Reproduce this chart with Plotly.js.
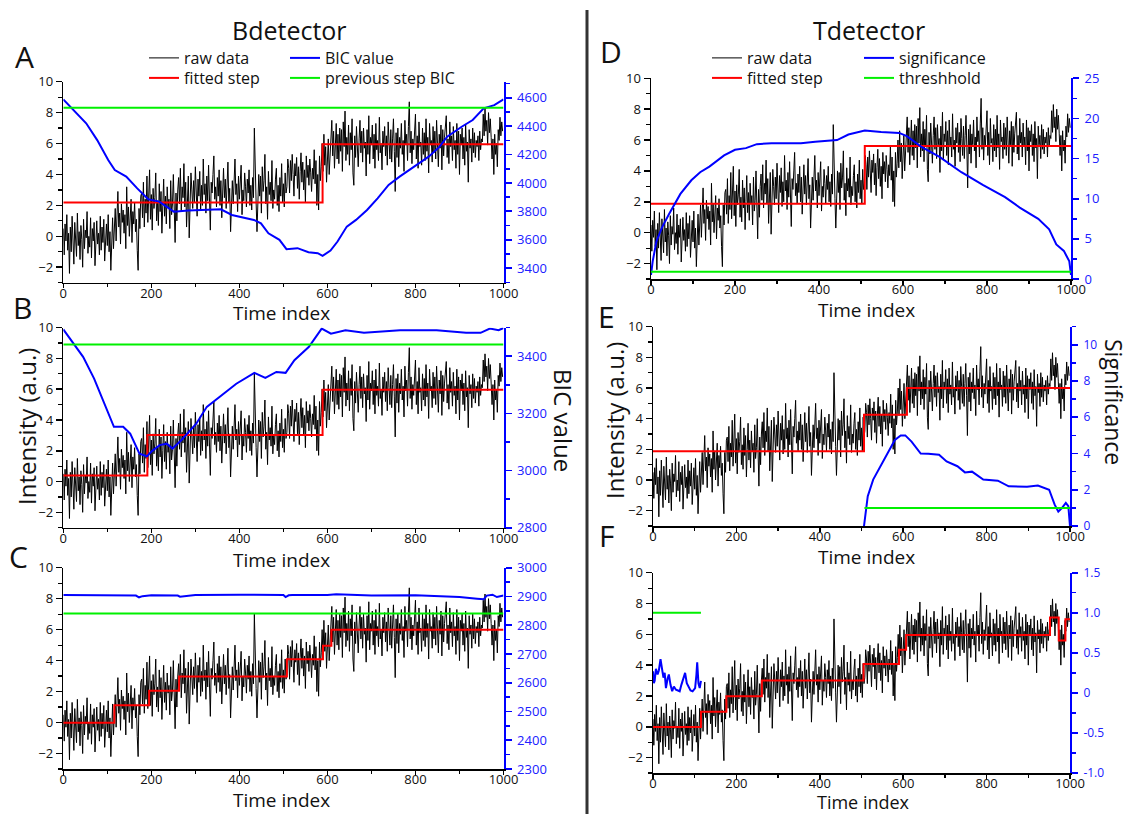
<!DOCTYPE html>
<html><head><meta charset="utf-8">
<script src="https://cdn.plot.ly/plotly-3.0.1.min.js"></script>
<style>html,body{margin:0;padding:0;background:#fff}#chart{width:1131px;height:814px}</style>
</head><body><div id="chart"></div>
<script>
// ---------------- DATA ----------------
const timeStep = 2;
const rawData = [
0.5,-1.2,0.8,-0.3,1.4,-0.9,0.2,-2.4,0.6,-1.0,
1.3,-0.4,-1.8,0.9,0.1,-1.3,1.5,-0.6,0.3,-1.5,
0.7,-0.2,-2.0,1.1,-0.8,0.4,-0.1,1.6,-1.1,0.0,
-0.7,1.2,-1.4,0.5,-0.3,0.9,-1.9,0.3,1.0,-0.5,
0.2,-1.2,1.3,-0.9,0.6,-0.4,1.1,-1.6,0.1,0.8,
-0.6,1.4,-1.0,0.3,-2.2,0.7,1.2,-0.8,
0.4,1.8,-0.3,1.2,2.9,0.6,1.5,-0.5,2.1,0.9,
1.7,0.2,1.4,-0.8,3.2,0.7,1.9,0.0,1.3,2.4,
-0.4,1.6,0.8,2.2,0.3,1.1,-0.9,-2.2,1.8,0.5,
2.6,
2.8,1.2,3.5,0.6,2.4,1.5,3.9,0.9,2.2,4.3,
1.1,2.7,0.4,3.1,1.8,2.5,4.1,1.0,2.3,0.7,
3.4,1.6,2.9,0.2,2.0,3.7,1.3,2.6,0.8,3.2,
1.9,2.4,0.5,3.6,1.4,2.1,4.0,1.7,-0.4,2.8,
1.0,3.0,
3.8,2.1,4.4,1.6,3.2,2.5,4.7,1.9,3.5,0.6,
2.8,3.9,-0.1,2.4,4.1,3.0,1.8,3.6,2.2,4.5,
2.9,1.3,3.7,2.6,4.2,1.7,3.3,2.0,5.0,2.7,
3.4,1.5,3.9,2.3,4.6,3.1,0.4,3.5,2.8,4.0,
5.2,2.4,3.2,1.9,3.8,2.6,4.3,2.0,3.6,1.2,
3.0,4.4,2.5,3.7,1.8,3.3,4.8,2.2,3.1,0.3,
2.9,3.6,2.1,4.2,5.0,2.7,3.4,1.6,3.9,2.4,
3.5,4.6,1.4,3.0,2.3,4.1,3.2,1.9,3.7,2.8,
4.3,2.0,3.3,1.7,3.8,2.5,7.0,3.1,2.2,0.3,
3.4,4.0,2.6,3.9,1.5,4.5,2.9,3.6,5.3,2.1,
3.2,1.1,4.2,2.7,3.5,2.3,4.9,1.8,3.0,2.4,
3.7,4.4,2.0,3.3,1.6,3.8,2.6,4.7,2.2,3.4,
1.9,4.1,2.8,
3.2,5.0,4.4,2.8,4.9,3.6,5.3,4.0,2.6,4.7,
3.9,5.1,3.1,4.5,2.4,4.2,5.4,3.5,4.8,3.0,
4.3,2.2,5.2,3.8,4.6,3.3,5.0,4.1,2.9,4.4,
3.7,5.6,3.4,4.9,2.0,4.0,1.7,5.2,3.6,4.5,
6.0,
4.2,6.6,4.6,5.8,3.5,5.4,6.3,4.0,5.6,6.1,
7.5,5.2,6.8,4.4,6.2,7.3,5.0,6.6,4.7,7.0,
5.5,6.9,4.2,7.4,5.8,8.1,4.9,6.4,5.3,7.2,
4.6,6.7,5.6,7.6,4.1,3.3,6.5,5.1,7.1,5.9,
4.5,6.3,7.5,5.4,6.8,4.8,7.0,5.7,6.1,3.9,
6.9,5.3,7.8,4.7,6.4,5.9,7.2,5.0,6.6,4.4,
7.3,5.6,6.2,4.9,7.7,5.4,6.0,4.3,6.8,5.8,
7.1,5.2,6.5,4.6,7.4,6.1,5.0,6.9,4.8,6.3,
7.6,5.5,2.9,6.7,5.1,7.0,4.5,6.4,5.7,7.3,
5.3,6.2,4.2,7.5,5.9,6.6,4.9,7.1,8.7,5.4,
6.8,4.7,6.3,5.6,7.2,7.9,5.0,6.5,4.4,7.4,
5.8,6.1,4.6,7.0,5.3,6.7,4.9,7.6,5.5,6.4,
4.1,7.3,5.9,6.2,4.8,7.1,5.4,6.8,5.0,7.5,
6.0,4.5,6.6,5.7,7.2,4.3,6.9,5.2,6.4,7.0,
7.8,5.1,6.3,4.7,7.4,5.8,6.5,4.9,7.1,5.6,
6.2,4.4,7.3,5.3,6.8,4.0,6.6,5.9,7.0,5.0,
6.4,4.6,7.2,5.5,6.1,3.5,6.9,5.7,6.3,4.8,
7.0,5.4,6.7,5.1,6.2,5.8,6.5,4.9,6.8,5.6,
6.3,
6.1,7.9,6.5,8.3,6.8,7.5,5.9,8.0,6.7,7.6,6.4,
5.0,6.3,4.0,6.6,5.3,6.0,4.5,6.9,
6.2,7.7,6.5,7.4,6.8
];

// fitted steps (breakpoint time index, level)
const stepA_x = [0, 589, 1000];
const stepA_y = [2.18, 5.95, 5.95];
const stepB_x = [0, 191, 589, 1000];
const stepB_y = [0.4, 3.03, 5.97, 5.97];
const stepC_x = [0, 116, 195, 263, 508, 590, 609, 1000];
const stepC_y = [-0.02, 1.12, 2.06, 2.98, 4.08, 4.96, 5.99, 5.99];
const stepD_x = [0, 509, 1000];
const stepD_y = [1.87, 5.61, 5.61];
const stepE_x = [0, 506, 609, 1000];
const stepE_y = [1.87, 4.26, 6.0, 6.0];
const stepF_x = [0, 115, 176, 261, 505, 590, 607, 952, 973, 989, 1000];
const stepF_y = [-0.02, 0.97, 1.98, 3.0, 4.07, 5.0, 5.95, 7.09, 5.6, 6.98, 6.98];

// BIC values (Bdetector)
const bicA_x = [0,19,52,77,102,117,143,168,193,218,251,284,317,334,358,383,433,449,466,491,507,532,557,578,589,607,623,644,665,690,714,739,764,797,830,855,872,905,930,955,979,1000];
const bicA_y = [4588,4525,4420,4302,4162,4091,4045,3962,3885,3869,3798,3806,3810,3815,3815,3775,3740,3716,3646,3600,3534,3541,3513,3506,3487,3524,3588,3693,3740,3810,3892,3986,4045,4115,4185,4256,4326,4396,4443,4525,4548,4588];
const bicB_x = [0,20,45,70,94,115,136,152,173,190,202,219,235,248,268,302,326,360,393,434,459,484,505,525,558,587,608,641,683,765,848,915,948,969,989,1000];
const bicB_y = [3494,3450,3398,3322,3234,3153,3153,3129,3059,3050,3069,3089,3094,3077,3106,3164,3223,3264,3304,3342,3324,3345,3342,3386,3433,3497,3479,3491,3482,3491,3491,3482,3482,3497,3491,3499];
const bicC_x = [0,100,165,172,180,200,260,265,300,400,500,505,512,520,600,620,650,700,800,850,900,940,955,962,975,985,1000];
const bicC_y = [2905,2904,2903,2897,2901,2904,2903,2899,2905,2906,2905,2898,2904,2905,2905,2908,2906,2903,2904,2900,2898,2892,2890,2903,2906,2898,2903];

// significance (Tdetector)
const sigD_x = [0,4,13,26,43,70,96,117,139,174,200,226,252,287,322,357,391,443,470,509,548,591,609,643,687,739,791,843,878,922,948,965,983,996,1000];
const sigD_y = [0.5,2.2,4.7,6.4,8.1,10.6,12.3,13.3,14.0,15.4,16.1,16.3,16.8,16.9,16.9,16.9,17.1,17.3,18.0,18.5,18.3,18.2,17.8,16.5,15.2,13.3,11.7,10.2,8.9,7.5,6.2,4.3,3.5,2.2,0.5];
const sigE_x = [506,515,528,545,563,580,594,605,620,642,660,686,704,730,748,765,792,827,853,897,923,950,963,972,981,990,996,1000];
const sigE_y = [0,1.65,2.56,3.3,4.0,4.75,5.0,5.0,4.66,4.0,3.99,3.93,3.56,3.3,2.96,3.0,2.56,2.5,2.19,2.16,2.23,2.0,1.19,0.79,1.0,1.28,1.1,0];
const sigF_x = [0,2,4,7,11,14,18,21,25,28,31,35,38,42,46,50,55,60,64,68,72,77,81,86,90,95,98,101,104,106,109,112,115];
const sigF_y = [0.27,0.12,0.15,0.30,0.23,0.28,0.42,0.30,0.19,0.25,0.06,0.18,0.23,0.10,0.02,0.08,0.04,0.03,0.02,0.10,0.18,0.25,0.12,0.06,0.03,0.02,0.05,0.06,0.22,0.38,0.12,0.06,0.15];

// reference / threshold lines
const greenA_x = [0, 1000], greenA_y = [4530, 4530];
const greenB_x = [0, 1000], greenB_y = [3441, 3441];
const greenC_x = [0, 1000], greenC_y = [2841, 2841];
const greenD_x = [0, 1000], greenD_y = [0.9, 0.9];
const greenE_x = [507, 1000], greenE_y = [1, 1];
const greenF_x = [0, 115], greenF_y = [1, 1];

// tick labels
const timeTicks = [0, 200, 400, 600, 800, 1000];
const intensityTicks = [-2, 0, 2, 4, 6, 8, 10];
const ticksA = [3400, 3600, 3800, 4000, 4200, 4400, 4600];
const ticksB = [2800, 3000, 3200, 3400];
const ticksC = [2300, 2400, 2500, 2600, 2700, 2800, 2900, 3000];
const ticksD = [0, 5, 10, 15, 20, 25];
const ticksE = [0, 2, 4, 6, 8, 10];
const ticksF = [-1.0, -0.5, 0, 0.5, 1.0, 1.5];
const labelsF = ['-1.0', '-0.5', '0', '0.5', '1.0', '1.5'];

// ---------------- LAYOUT ----------------
const W = 1131, H = 814;
const FONT = '"Open Sans", "Noto Sans", "DejaVu Sans", sans-serif';
const BLUE = '#0000ff';
const TICKBLUE = '#2020ff';
const GREEN = '#00f000';
const px = x => x / W;
const py = y => 1 - y / H;

const panels = [
  {box:[63.3,81.7,503.5,282.7], r:[3298,4713], tv:ticksA, tt:null, minor:100, step:[stepA_x,stepA_y], blue:[bicA_x,bicA_y], green:[greenA_x,greenA_y], names:['BIC value','previous step BIC'], leg:['legend','legend2'], lw:96, fs:13},
  {box:[63.3,327.7,503.5,527.7], r:[2800,3500], tv:ticksB, tt:null, minor:100, step:[stepB_x,stepB_y], blue:[bicB_x,bicB_y], green:[greenB_x,greenB_y], leg:null, fs:13},
  {box:[63.3,567.7,503.5,769], r:[2300,3000], tv:ticksC, tt:null, minor:50, step:[stepC_x,stepC_y], blue:[bicC_x,bicC_y], green:[greenC_x,greenC_y], leg:null, fs:13},
  {box:[651,78.3,1071,279], r:[0,25], tv:ticksD, tt:null, minor:2.5, step:[stepD_x,stepD_y], blue:[sigD_x,sigD_y], green:[greenD_x,greenD_y], names:['significance','threshhold'], leg:['legend3','legend4'], lw:107, fs:13},
  {box:[653,326.7,1070,526], r:[0,11], tv:ticksE, tt:null, minor:1, step:[stepE_x,stepE_y], blue:[sigE_x,sigE_y], green:[greenE_x,greenE_y], leg:null, fs:12},
  {box:[653,572.7,1070,773], r:[-1,1.5], tv:ticksF, tt:labelsF, minor:0.25, step:[stepF_x,stepF_y], blue:[sigF_x,sigF_y], green:[greenF_x,greenF_y], leg:null, fs:12}
];

const traces = [];
const layout = {
  width: W, height: H,
  margin: {l:0, r:0, t:0, b:0},
  paper_bgcolor: '#fff', plot_bgcolor: 'rgba(0,0,0,0)',
  font: {family: FONT, color: '#000', size: 13},
  showlegend: true,
  annotations: [], shapes: []
};

const baseAxis = {
  showline: true, linecolor: '#000', linewidth: 1.5, ticks: 'outside', ticklen: 6, tickwidth: 1.5,
  tickcolor: '#000', showgrid: false, zeroline: false, fixedrange: true,
  tickfont: {family: FONT, size: 13, color: '#111'}
};

panels.forEach((p, i) => {
  const n = i + 1;
  const xk = n === 1 ? 'xaxis' : 'xaxis' + n;
  const xr = n === 1 ? 'x' : 'x' + n;
  const yl = 2 * i + 1, yr = 2 * i + 2;
  const ylk = yl === 1 ? 'yaxis' : 'yaxis' + yl;
  const ylr = yl === 1 ? 'y' : 'y' + yl;
  const yrk = 'yaxis' + yr, yrr = 'y' + yr;
  const [x0, y0, x1, y1] = p.box;

  layout[xk] = Object.assign({}, baseAxis, {
    domain: [px(x0), px(x1)], anchor: ylr, range: [0, 1000],
    tickmode: 'array', tickvals: timeTicks, ticklen: 4, ticklabelstandoff: -6,
    minor: {dtick: 100, tick0: 0, ticklen: 3, tickwidth: 1.2, tickcolor: '#000', ticks: 'outside'}
  });
  layout[ylk] = Object.assign({}, baseAxis, {
    domain: [py(y1), py(y0)], anchor: xr, range: [-3, 10],
    tickmode: 'array', tickvals: intensityTicks,
    minor: {dtick: 1, tick0: 0, ticklen: 4, tickwidth: 1.2, tickcolor: '#000', ticks: 'outside'}
  });
  layout[yrk] = Object.assign({}, baseAxis, {
    overlaying: ylr, side: 'right', anchor: xr, range: p.r,
    linecolor: BLUE, linewidth: 2, tickcolor: BLUE, tickwidth: 1.8, ticklen: 6,
    tickmode: 'array', tickvals: p.tv, ticktext: p.tt || p.tv.map(String),
    ticklabelstandoff: 3,
    tickfont: {family: FONT, size: p.fs, color: TICKBLUE},
    minor: {dtick: p.minor, tick0: 0, ticklen: 4, tickwidth: 1.5, tickcolor: BLUE, ticks: 'outside'}
  });

  // legend rows: row 1 = raw data + blue curve, row 2 = fitted step + green line
  const leg = p.leg;
  traces.push({
    type: 'scatter', mode: 'lines', name: 'raw data', y: rawData, x0: 0, dx: timeStep,
    xaxis: xr, yaxis: ylr, line: {color: '#000', width: 1},
    showlegend: !!leg, legend: leg ? leg[0] : undefined, legendwidth: leg ? p.lw : undefined, hoverinfo: 'skip'
  });
  traces.push({
    type: 'scatter', mode: 'lines', name: 'fitted step', x: p.step[0], y: p.step[1],
    xaxis: xr, yaxis: ylr, line: {color: '#ff0000', width: 2, shape: 'hv'},
    showlegend: !!leg, legend: leg ? leg[1] : undefined, legendwidth: leg ? p.lw : undefined, hoverinfo: 'skip'
  });
  traces.push({
    type: 'scatter', mode: 'lines', name: leg ? p.names[0] : 'blue', x: p.blue[0], y: p.blue[1],
    xaxis: xr, yaxis: yrr, line: {color: BLUE, width: 2},
    showlegend: !!leg, legend: leg ? leg[0] : undefined, legendwidth: leg ? 190 : undefined, hoverinfo: 'skip'
  });
  traces.push({
    type: 'scatter', mode: 'lines', name: leg ? p.names[1] : 'green', x: p.green[0], y: p.green[1],
    xaxis: xr, yaxis: yrr, line: {color: GREEN, width: 2},
    showlegend: !!leg, legend: leg ? leg[1] : undefined, legendwidth: leg ? 190 : undefined, hoverinfo: 'skip'
  });
});

const legBase = {orientation: 'h', xanchor: 'left', yanchor: 'top', bgcolor: 'rgba(0,0,0,0)', borderwidth: 0,
  font: {family: FONT, size: 16, color: '#111'}, tracegroupgap: 0, itemwidth: 30, traceorder: 'normal',
  entrywidthmode: 'pixels'};
layout.legend  = Object.assign({}, legBase, {x: px(144), y: py(41)});
layout.legend2 = Object.assign({}, legBase, {x: px(144), y: py(61)});
layout.legend3 = Object.assign({}, legBase, {x: px(707), y: py(41)});
layout.legend4 = Object.assign({}, legBase, {x: px(707), y: py(61)});

function ann(text, x, y, size, angle) {
  layout.annotations.push({
    text: text, x: px(x), y: py(y), xref: 'paper', yref: 'paper',
    xanchor: 'center', yanchor: 'middle', showarrow: false, textangle: angle || 0,
    font: {family: FONT, size: size, color: '#111'}
  });
}
ann('Bdetector', 289, 30, 25);
ann('Tdetector', 869, 30, 25);
ann('A', 24, 56, 30); ann('B', 22, 307, 30); ann('C', 18, 556, 30);
ann('D', 611, 52, 30); ann('E', 606, 317, 30); ann('F', 606, 535, 30);
ann('Time index', 281, 313, 19); ann('Time index', 281, 560, 19); ann('Time index', 281, 800, 19);
ann('Time index', 866, 310, 19); ann('Time index', 866, 557, 19); ann('Time index', 863, 802, 18);
ann('Intensity (a.u.)', 26, 427, 24, -90);
ann('BIC value', 564, 420, 24, 90);
ann('Intensity (a.u.)', 614, 421, 24, -90);
ann('Significance', 1114, 402, 23, 90);

layout.shapes.push({type: 'line', xref: 'paper', yref: 'paper', x0: px(587), x1: px(587), y0: py(10), y1: 0,
  line: {color: '#333', width: 3}});

Plotly.newPlot('chart', traces, layout, {staticPlot: true, displayModeBar: false});
</script>
</body></html>
